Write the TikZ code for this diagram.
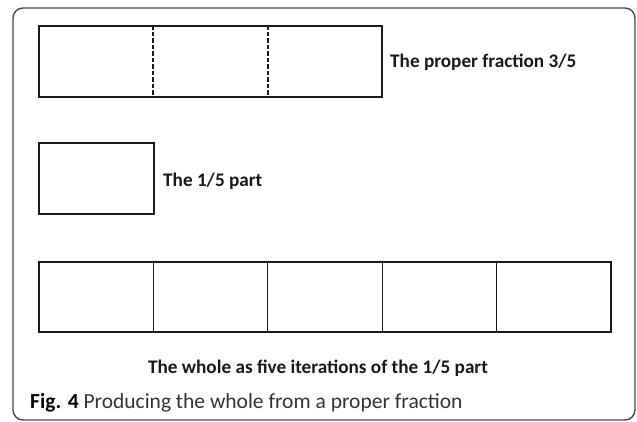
\documentclass[tikz,border=0pt]{standalone}
\usepackage{fontspec}
\setmainfont{Carlito}
\usetikzlibrary{calc}
\definecolor{framegray}{HTML}{4A4A4A}
\definecolor{captext}{HTML}{333333}
\tikzset{
  outerframe/.style={draw=framegray, line width=1.4pt, rounded corners=10pt},
  thickbox/.style={draw=black!90, line width=1.8pt, minimum width=343pt, minimum height=71pt, inner sep=0pt},
  unitbox/.style={draw=black!90, line width=1.1pt, minimum width=114.4pt, minimum height=70pt, inner sep=0pt},
  divider/.style={draw=black!90, line width=1.9pt, dash pattern=on 4.5pt off 2pt},
  lbl/.style={font=\bfseries\fontsize{19.2}{21}\selectfont, inner sep=0pt, text=black!90},
  figcaption/.style={font=\fontsize{21.5}{24}\selectfont, inner sep=0pt, text=captext}
}
\begin{document}
\begin{tikzpicture}[x=1pt,y=-1pt]
  \useasboundingbox (0,0) rectangle (637,421);
  % rounded outer frame
  \draw[outerframe] (13,8) rectangle (635,420);

  % three fifths, split by dashed lines
  \node[thickbox] (frac) at (210.5,61.5) {};
  \draw[divider] ($(frac.north west)!1/3!(frac.north east)$) -- ($(frac.south west)!1/3!(frac.south east)$);
  \draw[divider] ($(frac.north west)!2/3!(frac.north east)$) -- ($(frac.south west)!2/3!(frac.south east)$);
  \node[lbl, anchor=base west] (fraclbl) at (390,67) {The proper fraction 3/5};

  % one fifth
  \node[unitbox, minimum width=115pt, minimum height=71pt] (part) at (96.5,178.5) {};
  \node[lbl, anchor=base west] (partlbl) at (163,186) {The 1/5 part};

  % the whole: five copies of the part
  \foreach \i in {0,...,4} {
    \node[unitbox] (w\i) at ({39+57.2+114.4*\i},297) {};
  }
  \node[lbl, anchor=base] (wholelbl) at (318,373) {The whole as five iterations of the 1/5 part};

  % caption
  \node[figcaption, anchor=base west] (caption) at (30,408) {\textbf{\color{black}Fig. 4} Producing the whole from a proper fraction};
\end{tikzpicture}
\end{document}
